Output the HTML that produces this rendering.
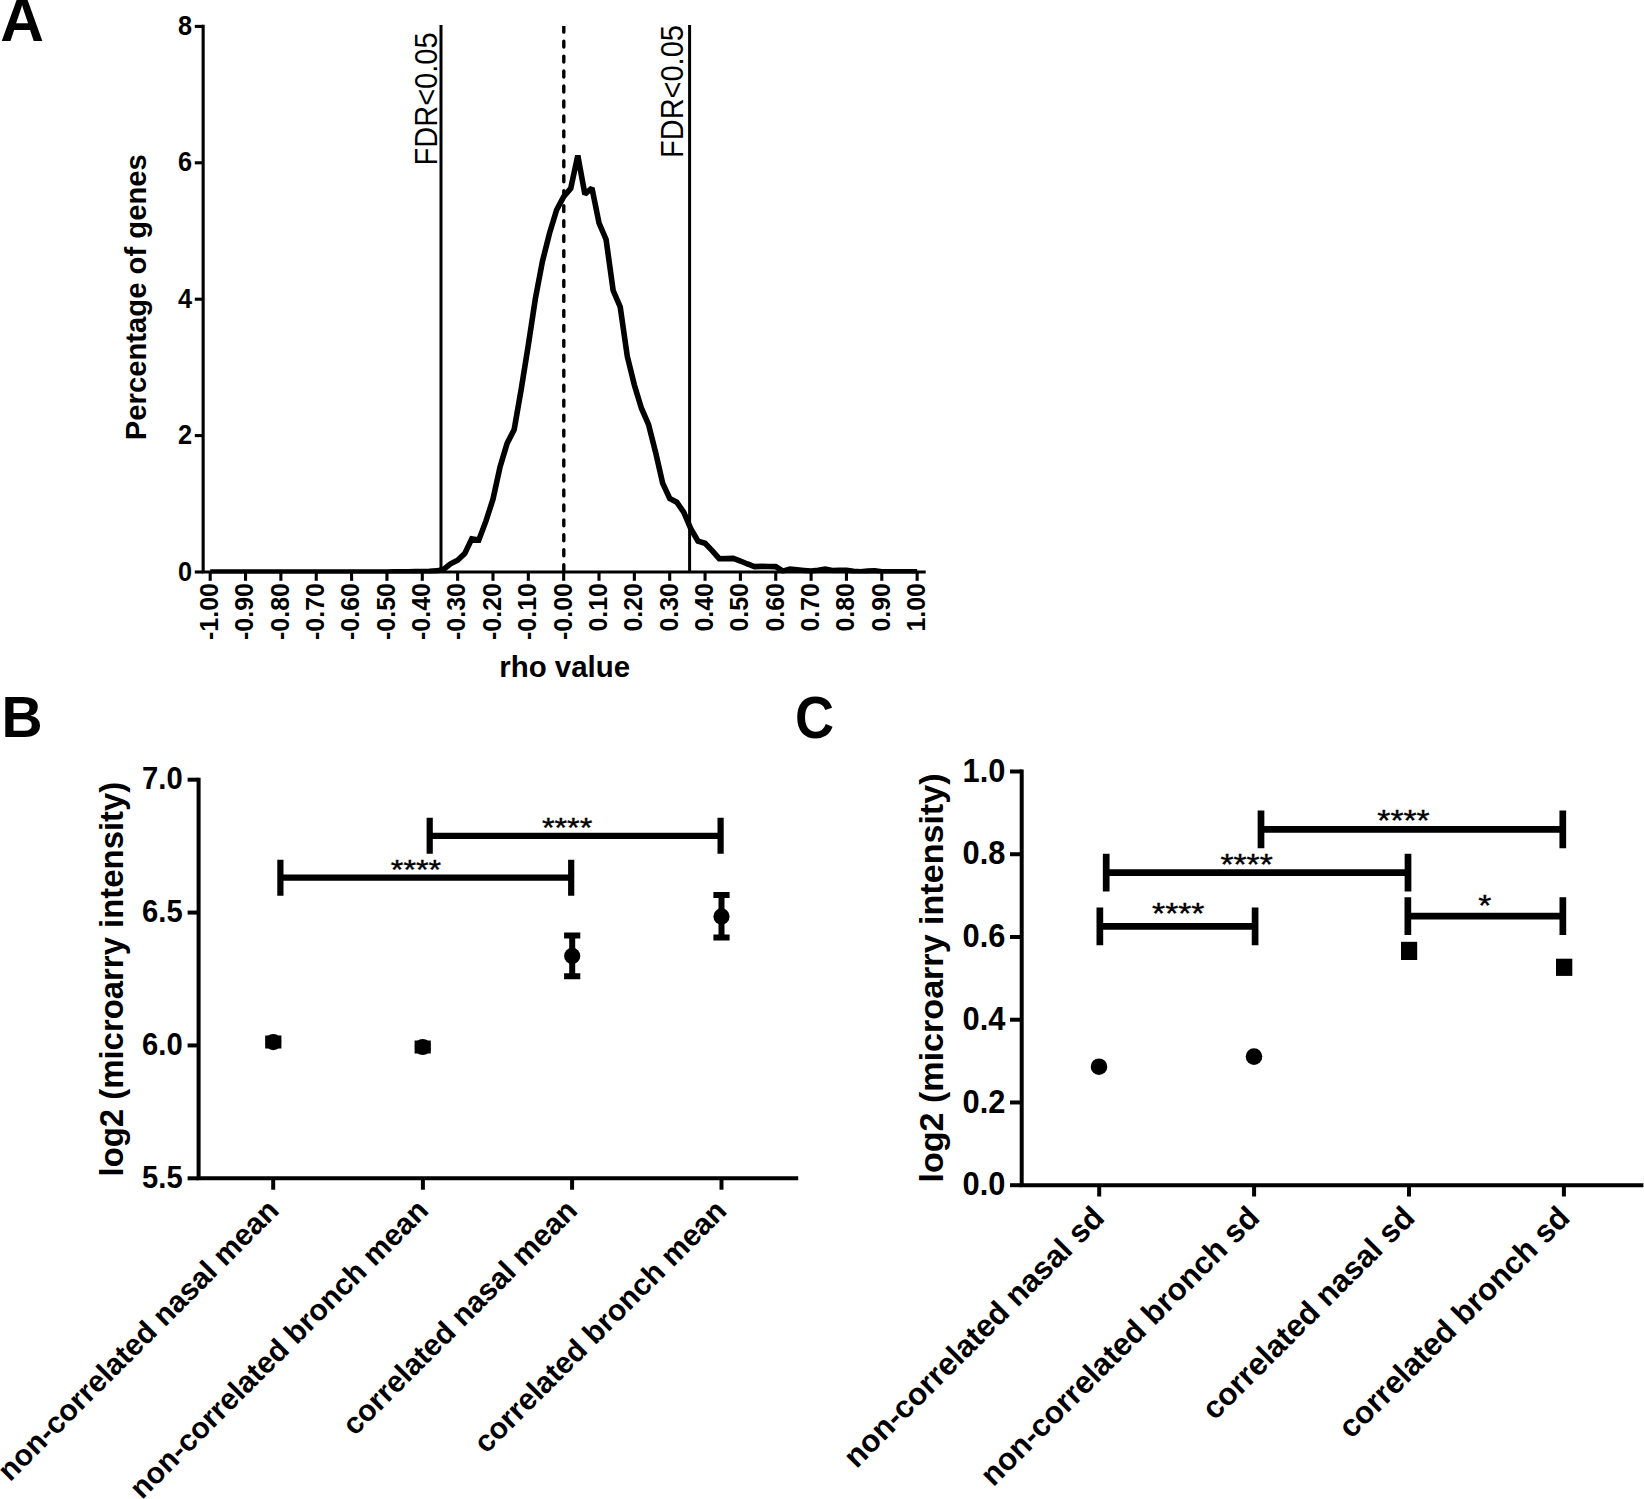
<!DOCTYPE html>
<html lang="en"><head><meta charset="utf-8"><title>Figure</title>
<style>html,body{margin:0;padding:0;background:#fff;}svg{display:block;}text{font-family:"Liberation Sans",Arial,Helvetica,sans-serif;fill:#000;}.b{font-weight:bold;}</style></head><body>
<svg width="1644" height="1499" viewBox="0 0 1644 1499">
<rect x="0" y="0" width="1644" height="1499" fill="#fff"/>
<defs><clipPath id="cpA"><rect x="555" y="26" width="18" height="550"/></clipPath><clipPath id="cpB"><rect x="200" y="100" width="740" height="473.5"/></clipPath></defs>
<text class="b" font-size="60.5" transform="translate(0.2 40.6)">A</text>
<text class="b" font-size="56.9" transform="translate(1.6 737) scale(1 1.024)">B</text>
<text class="b" font-size="56.9" transform="translate(795.1 737.6) scale(0.95 1.050)">C</text>
<g stroke="#000" fill="none" stroke-width="3.1">
<path d="M203.15 24.85 V572 H925.7"/>
<path d="M194.8 572 H203.15"/>
<path d="M194.8 435.6 H203.15"/>
<path d="M194.8 299.2 H203.15"/>
<path d="M194.8 162.8 H203.15"/>
<path d="M194.8 26.4 H203.15"/>
<path d="M210.2 572 V580.8"/>
<path d="M245.55 572 V580.8"/>
<path d="M280.89 572 V580.8"/>
<path d="M316.24 572 V580.8"/>
<path d="M351.59 572 V580.8"/>
<path d="M386.94 572 V580.8"/>
<path d="M422.28 572 V580.8"/>
<path d="M457.63 572 V580.8"/>
<path d="M492.98 572 V580.8"/>
<path d="M528.32 572 V580.8"/>
<path d="M563.67 572 V580.8"/>
<path d="M599.02 572 V580.8"/>
<path d="M634.36 572 V580.8"/>
<path d="M669.71 572 V580.8"/>
<path d="M705.06 572 V580.8"/>
<path d="M740.4 572 V580.8"/>
<path d="M775.75 572 V580.8"/>
<path d="M811.1 572 V580.8"/>
<path d="M846.45 572 V580.8"/>
<path d="M881.79 572 V580.8"/>
<path d="M917.14 572 V580.8"/>
</g>
<text class="b" font-size="25.3" text-anchor="end" transform="translate(192 580.6) scale(1 1.070)">0</text>
<text class="b" font-size="25.3" text-anchor="end" transform="translate(192 444.2) scale(1 1.070)">2</text>
<text class="b" font-size="25.3" text-anchor="end" transform="translate(192 307.8) scale(1 1.070)">4</text>
<text class="b" font-size="25.3" text-anchor="end" transform="translate(192 171.4) scale(1 1.070)">6</text>
<text class="b" font-size="25.3" text-anchor="end" transform="translate(192 35) scale(1 1.070)">8</text>
<text class="b" font-size="24.95" text-anchor="end" transform="translate(218.05 583.1) rotate(-90) scale(1 1.060)">-1.00</text>
<text class="b" font-size="24.95" text-anchor="end" transform="translate(253.4 583.1) rotate(-90) scale(1 1.060)">-0.90</text>
<text class="b" font-size="24.95" text-anchor="end" transform="translate(288.74 583.1) rotate(-90) scale(1 1.060)">-0.80</text>
<text class="b" font-size="24.95" text-anchor="end" transform="translate(324.09 583.1) rotate(-90) scale(1 1.060)">-0.70</text>
<text class="b" font-size="24.95" text-anchor="end" transform="translate(359.44 583.1) rotate(-90) scale(1 1.060)">-0.60</text>
<text class="b" font-size="24.95" text-anchor="end" transform="translate(394.79 583.1) rotate(-90) scale(1 1.060)">-0.50</text>
<text class="b" font-size="24.95" text-anchor="end" transform="translate(430.13 583.1) rotate(-90) scale(1 1.060)">-0.40</text>
<text class="b" font-size="24.95" text-anchor="end" transform="translate(465.48 583.1) rotate(-90) scale(1 1.060)">-0.30</text>
<text class="b" font-size="24.95" text-anchor="end" transform="translate(500.83 583.1) rotate(-90) scale(1 1.060)">-0.20</text>
<text class="b" font-size="24.95" text-anchor="end" transform="translate(536.17 583.1) rotate(-90) scale(1 1.060)">-0.10</text>
<text class="b" font-size="24.95" text-anchor="end" transform="translate(571.52 583.1) rotate(-90) scale(1 1.060)">-0.00</text>
<text class="b" font-size="24.95" text-anchor="end" transform="translate(606.87 583.1) rotate(-90) scale(1 1.060)">0.10</text>
<text class="b" font-size="24.95" text-anchor="end" transform="translate(642.21 583.1) rotate(-90) scale(1 1.060)">0.20</text>
<text class="b" font-size="24.95" text-anchor="end" transform="translate(677.56 583.1) rotate(-90) scale(1 1.060)">0.30</text>
<text class="b" font-size="24.95" text-anchor="end" transform="translate(712.91 583.1) rotate(-90) scale(1 1.060)">0.40</text>
<text class="b" font-size="24.95" text-anchor="end" transform="translate(748.25 583.1) rotate(-90) scale(1 1.060)">0.50</text>
<text class="b" font-size="24.95" text-anchor="end" transform="translate(783.6 583.1) rotate(-90) scale(1 1.060)">0.60</text>
<text class="b" font-size="24.95" text-anchor="end" transform="translate(818.95 583.1) rotate(-90) scale(1 1.060)">0.70</text>
<text class="b" font-size="24.95" text-anchor="end" transform="translate(854.3 583.1) rotate(-90) scale(1 1.060)">0.80</text>
<text class="b" font-size="24.95" text-anchor="end" transform="translate(889.64 583.1) rotate(-90) scale(1 1.060)">0.90</text>
<text class="b" font-size="24.95" text-anchor="end" transform="translate(924.99 583.1) rotate(-90) scale(1 1.060)">1.00</text>
<text class="b" font-size="29.45" text-anchor="middle" transform="translate(564.7 676.7)">rho value</text>
<text class="b" font-size="29.25" text-anchor="middle" transform="translate(145.6 297.2) rotate(-90)">Percentage of genes</text>
<g stroke="#000" stroke-width="3" fill="none">
<path d="M441 24.9 V572"/><path d="M689.6 24.9 V572"/>
<path d="M563.8 26.18 V573" stroke-dasharray="5.96 9" stroke-width="3.4" stroke-linecap="round" clip-path="url(#cpA)"/>
</g>
<text font-size="29" transform="translate(437.3 165.4) rotate(-90) scale(1 1.070)">FDR&lt;0.05</text>
<text font-size="29" transform="translate(683.4 158) rotate(-90) scale(1 1.070)">FDR&lt;0.05</text>
<path d="M210.2 572 L217.27 572 L224.34 572 L231.41 572 L238.48 572 L245.55 572 L252.62 572 L259.69 572 L266.76 572 L273.82 572 L280.89 572 L287.96 572 L295.03 572 L302.1 572 L309.17 572 L316.24 572 L323.31 572 L330.38 572 L337.45 572 L344.52 572 L351.59 572 L358.66 572 L365.73 572 L372.8 572 L379.87 572 L386.94 572 L394 571.9 L401.07 571.8 L408.14 571.7 L415.21 571.6 L422.28 571.5 L429.35 571.3 L436.42 570.9 L443.49 569.4 L450.56 563.8 L457.63 560.2 L464.7 553.6 L471.77 538.9 L478.84 540 L485.91 521.2 L492.98 499.2 L500.05 466.9 L507.11 443.4 L514.18 429.5 L521.25 389 L528.32 345 L535.39 298.5 L542.46 261.3 L549.53 233.3 L556.6 210 L563.67 196.6 L570.74 188.4 L577.81 155.5 L584.88 194.2 L591.95 188 L599.02 223 L606.09 239.5 L613.16 290.6 L620.23 307 L627.29 356.3 L634.36 385 L641.43 408.2 L648.5 424.3 L655.57 452.2 L662.64 483.1 L669.71 498.5 L676.78 502.2 L683.85 512.4 L690.92 529 L697.99 541.1 L705.06 543.3 L712.13 550.6 L719.2 558.7 L726.27 558.6 L733.34 558.4 L740.41 561 L747.47 564 L754.54 566.6 L761.61 566.4 L768.68 566.5 L775.75 566.6 L782.82 571.1 L789.89 569.2 L796.96 569.8 L804.03 570.5 L811.1 571.1 L818.17 570.3 L825.24 569.2 L832.31 570.5 L839.38 570.4 L846.45 570.3 L853.52 571.2 L860.58 571.7 L867.65 571.1 L874.72 570.8 L881.79 571.7 L888.86 571.9 L895.93 571.9 L903 571.9 L910.07 571.9 L917.14 571.9" stroke="#000" stroke-width="5.6" fill="none" stroke-linejoin="miter" stroke-miterlimit="1.9" stroke-linecap="butt" clip-path="url(#cpB)"/>
<g stroke="#000" fill="none" stroke-width="4">
<path d="M198.6 777.7 V1178.3 H798.2"/>
<path d="M187.6 779.7 H198.6"/>
<path d="M187.6 912.57 H198.6"/>
<path d="M187.6 1045.43 H198.6"/>
<path d="M187.6 1178.3 H198.6"/>
<path d="M273.2 1178.3 V1189.7"/>
<path d="M422.9 1178.3 V1189.7"/>
<path d="M572.1 1178.3 V1189.7"/>
<path d="M721.5 1178.3 V1189.7"/>
</g>
<text class="b" font-size="29.2" text-anchor="end" transform="translate(182.7 789.2) scale(1 1.060)">7.0</text>
<text class="b" font-size="29.2" text-anchor="end" transform="translate(182.7 922.07) scale(1 1.060)">6.5</text>
<text class="b" font-size="29.2" text-anchor="end" transform="translate(182.7 1054.93) scale(1 1.060)">6.0</text>
<text class="b" font-size="29.2" text-anchor="end" transform="translate(182.7 1187.8) scale(1 1.060)">5.5</text>
<text class="b" font-size="32.9" text-anchor="middle" transform="translate(123.4 979.1) rotate(-90)">log2 (microarry intensity)</text>
<text class="b" font-size="30.05" text-anchor="end" transform="translate(280.4 1212) rotate(-45)">non-correlated nasal mean</text>
<text class="b" font-size="30.05" text-anchor="end" transform="translate(430 1212.1) rotate(-45)">non-correlated bronch mean</text>
<text class="b" font-size="30.05" text-anchor="end" transform="translate(579 1212.3) rotate(-45)">correlated nasal mean</text>
<text class="b" font-size="30.05" text-anchor="end" transform="translate(728.3 1212.4) rotate(-45)">correlated bronch mean</text>
<path d="M429.7 835.8 H720.6 M429.7 817.8 V853.8 M720.6 817.8 V853.8" stroke="#000" stroke-width="6.2" fill="none"/>
<path d="M280.4 877.7 H571.2 M280.4 859.7 V895.7 M571.2 859.7 V895.7" stroke="#000" stroke-width="6.2" fill="none"/>
<text font-size="32.3" text-anchor="middle" stroke="#000" stroke-width="0.42" transform="translate(567.1 837) scale(1 0.875)">****</text>
<text font-size="32.3" text-anchor="middle" stroke="#000" stroke-width="0.42" transform="translate(416 878.8) scale(1 0.875)">****</text>
<path d="M273.3 1038.6 V1045.6 M265.2 1038.6 H281.4 M265.2 1045.6 H281.4" stroke="#000" stroke-width="6" fill="none"/>
<circle cx="273.3" cy="1042.1" r="8.1" fill="#000"/>
<path d="M422.7 1043.5 V1050.5 M414.6 1043.5 H430.8 M414.6 1050.5 H430.8" stroke="#000" stroke-width="6" fill="none"/>
<circle cx="422.7" cy="1047" r="8.1" fill="#000"/>
<path d="M572.2 935.6 V976.2 M564.1 935.6 H580.3 M564.1 976.2 H580.3" stroke="#000" stroke-width="6" fill="none"/>
<circle cx="572.2" cy="955.9" r="8.1" fill="#000"/>
<path d="M721.5 895 V937.4 M713.4 895 H729.6 M713.4 937.4 H729.6" stroke="#000" stroke-width="6" fill="none"/>
<circle cx="721.5" cy="916.4" r="8.1" fill="#000"/>
<g stroke="#000" fill="none" stroke-width="4">
<path d="M1021.7 769.5 V1185.2 H1643.4"/>
<path d="M1010 771.5 H1021.7"/>
<path d="M1010 854.24 H1021.7"/>
<path d="M1010 936.98 H1021.7"/>
<path d="M1010 1019.72 H1021.7"/>
<path d="M1010 1102.46 H1021.7"/>
<path d="M1010 1185.2 H1021.7"/>
<path d="M1099.2 1185.2 V1196.5"/>
<path d="M1254.1 1185.2 V1196.5"/>
<path d="M1409 1185.2 V1196.5"/>
<path d="M1563.9 1185.2 V1196.5"/>
</g>
<text class="b" font-size="30.8" text-anchor="end" transform="translate(1005.4 781.7) scale(1 1.060)">1.0</text>
<text class="b" font-size="30.8" text-anchor="end" transform="translate(1005.4 864.44) scale(1 1.060)">0.8</text>
<text class="b" font-size="30.8" text-anchor="end" transform="translate(1005.4 947.18) scale(1 1.060)">0.6</text>
<text class="b" font-size="30.8" text-anchor="end" transform="translate(1005.4 1029.92) scale(1 1.060)">0.4</text>
<text class="b" font-size="30.8" text-anchor="end" transform="translate(1005.4 1112.66) scale(1 1.060)">0.2</text>
<text class="b" font-size="30.8" text-anchor="end" transform="translate(1005.4 1195.4) scale(1 1.060)">0.0</text>
<text class="b" font-size="34.1" text-anchor="middle" transform="translate(943.4 978) rotate(-90)">log2 (microarry intensity)</text>
<text class="b" font-size="31.3" text-anchor="end" transform="translate(1106.1 1219.5) rotate(-45)">non-correlated nasal sd</text>
<text class="b" font-size="31.3" text-anchor="end" transform="translate(1261.2 1219.5) rotate(-45)">non-correlated bronch sd</text>
<text class="b" font-size="31.3" text-anchor="end" transform="translate(1416.4 1219.5) rotate(-45)">correlated nasal sd</text>
<text class="b" font-size="31.3" text-anchor="end" transform="translate(1571.5 1219.5) rotate(-45)">correlated bronch sd</text>
<path d="M1261 829.4 H1562.8 M1261 810.6 V848.2 M1562.8 810.6 V848.2" stroke="#000" stroke-width="6.7" fill="none"/>
<path d="M1106.2 872.6 H1408 M1106.2 853.8 V891.4 M1408 853.8 V891.4" stroke="#000" stroke-width="6.7" fill="none"/>
<path d="M1099.85 926.4 H1255.1 M1099.85 907.6 V945.2 M1255.1 907.6 V945.2" stroke="#000" stroke-width="6.7" fill="none"/>
<path d="M1407.85 916.1 H1562.85 M1407.85 897.3 V934.9 M1562.85 897.3 V934.9" stroke="#000" stroke-width="6.7" fill="none"/>
<text font-size="33.67" text-anchor="middle" stroke="#000" stroke-width="0.42" transform="translate(1403.5 830.4) scale(1 0.875)">****</text>
<text font-size="33.67" text-anchor="middle" stroke="#000" stroke-width="0.42" transform="translate(1246.6 874) scale(1 0.875)">****</text>
<text font-size="33.67" text-anchor="middle" stroke="#000" stroke-width="0.42" transform="translate(1178.25 923.4) scale(1 0.875)">****</text>
<text font-size="33.67" text-anchor="middle" stroke="#000" stroke-width="0.42" transform="translate(1484.85 915.4) scale(1 0.875)">*</text>
<circle cx="1099" cy="1066.7" r="8.3" fill="#000"/>
<circle cx="1254" cy="1056.6" r="8.3" fill="#000"/>
<rect x="1401" y="941.8" width="16.2" height="18.2" fill="#000"/>
<rect x="1556" y="958.7" width="16.3" height="17.2" fill="#000"/>
</svg></body></html>
